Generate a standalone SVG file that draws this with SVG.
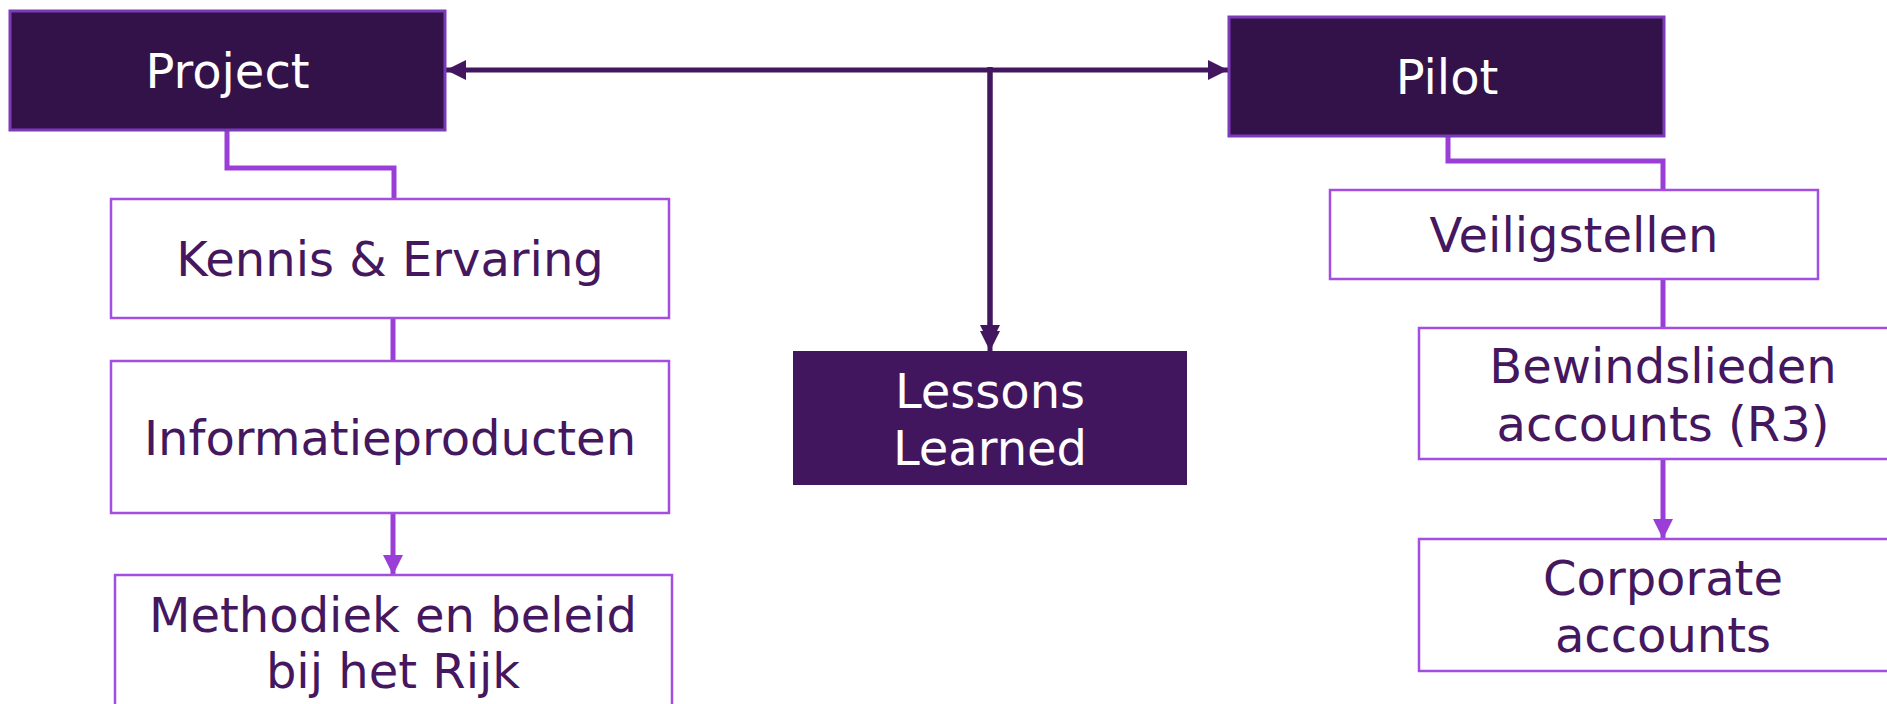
<svg xmlns="http://www.w3.org/2000/svg" width="1887" height="704" viewBox="0 0 1887 704">
<style>
.dark{fill:#33124a;stroke:#7b3bb8;stroke-width:3}
.ll{fill:#42165e;stroke:none}
.light{fill:#ffffff;stroke:#a24ee0;stroke-width:2.5}
.tw{font-family:"DejaVu Sans",Verdana,sans-serif;font-size:48px;fill:#ffffff;text-anchor:middle}
.tp{font-family:"DejaVu Sans",Verdana,sans-serif;font-size:48px;fill:#45175f;text-anchor:middle}
.cd{fill:none;stroke:#42175f;stroke-width:5}
.cl{fill:none;stroke:#9b3ed8;stroke-width:5}
</style>
<defs>
<marker id="ad" markerWidth="4" markerHeight="4" refX="4" refY="2" orient="auto" markerUnits="strokeWidth"><path d="M0,0 L4,2 L0,4 Z" fill="#42175f"/></marker>
<marker id="ads" markerWidth="4" markerHeight="4" refX="0" refY="2" orient="auto" markerUnits="strokeWidth"><path d="M4,0 L0,2 L4,4 Z" fill="#42175f"/></marker>
<marker id="al" markerWidth="4" markerHeight="4" refX="4" refY="2" orient="auto" markerUnits="strokeWidth"><path d="M0,0 L4,2 L0,4 Z" fill="#9b3ed8"/></marker>
</defs>
<g id="connectors">
<path class="cd" d="M446,70 L1228,70" marker-start="url(#ads)" marker-end="url(#ad)"/>
<path class="cd" d="M990,67 L990,345" marker-end="url(#ad)"/>
<path class="cd" d="M990,67 L990,351" marker-end="url(#ad)"/>
<path class="cl" d="M227,130 L227,168 L394,168 L394,199"/>
<path class="cl" d="M393,318 L393,361"/>
<path class="cl" d="M393,513 L393,575" marker-end="url(#al)"/>
<path class="cl" d="M1448,136 L1448,161 L1663,161 L1663,190"/>
<path class="cl" d="M1663,279 L1663,328"/>
<path class="cl" d="M1663,459 L1663,539" marker-end="url(#al)"/>
</g>
<g id="project">
<rect class="dark" x="10" y="11" width="435" height="119"/>
<text class="tw" x="227.5" y="88">Project</text>
</g>
<g id="pilot">
<rect class="dark" x="1229" y="17" width="435" height="119"/>
<text class="tw" x="1447" y="94">Pilot</text>
</g>
<g id="kennis">
<rect class="light" x="111" y="199" width="558" height="119"/>
<text class="tp" x="390" y="276">Kennis &amp; Ervaring</text>
</g>
<g id="informatie">
<rect class="light" x="111" y="361" width="558" height="152"/>
<text class="tp" x="390" y="455">Informatieproducten</text>
</g>
<g id="methodiek">
<rect class="light" x="115" y="575" width="557" height="140"/>
<text class="tp" x="393" y="632">Methodiek en beleid</text>
<text class="tp" x="393" y="688">bij het Rijk</text>
</g>
<g id="lessons">
<rect class="ll" x="793" y="351" width="394" height="134"/>
<text class="tw" x="990" y="408">Lessons</text>
<text class="tw" x="990" y="465">Learned</text>
</g>
<g id="veiligstellen">
<rect class="light" x="1330" y="190" width="488" height="89"/>
<text class="tp" x="1574" y="252">Veiligstellen</text>
</g>
<g id="bewindslieden">
<rect class="light" x="1419" y="328" width="488" height="131"/>
<text class="tp" x="1663" y="383">Bewindslieden</text>
<text class="tp" x="1663" y="441">accounts (R3)</text>
</g>
<g id="corporate">
<rect class="light" x="1419" y="539" width="488" height="132"/>
<text class="tp" x="1663" y="595">Corporate</text>
<text class="tp" x="1663" y="652">accounts</text>
</g>
</svg>
